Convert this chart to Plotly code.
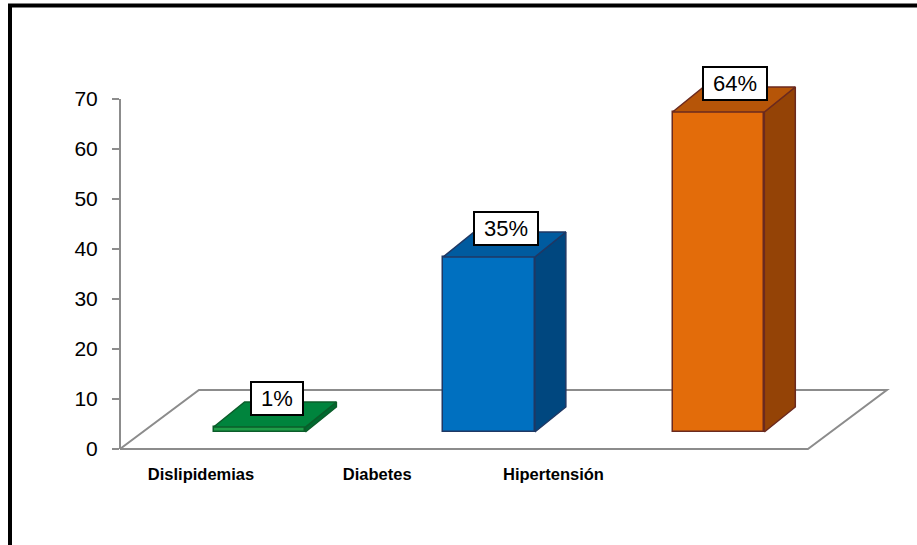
import plotly.graph_objects as go

# ---- data ----
categories = ["Dislipidemias", "Diabetes", "Hipertensión"]
values = [1, 35, 64]
value_labels = ["1%", "35%", "64%"]
y_ticks = [0, 10, 20, 30, 40, 50, 60, 70]

# ---- styling ----
front_colors = ["#1f9e48", "#0070c0", "#e36c0a"]
top_colors = ["#00843d", "#005b9f", "#b65508"]
side_colors = ["#006a30", "#00477f", "#944306"]
edge_colors = ["#0b5d2a", "#1f3864", "#6b2a1f"]
GRAY = "#8c8c8c"

bar_half = 0.2        # half width of bar front face (category units)
depth_dx = 0.135      # 3D depth offset (x, category units)
depth_dy = 5.0        # 3D depth offset (y, value units)
bar_base = 3.4        # where bars stand in the 3D floor
floor_front = (-0.608, 2.39)
floor_dx, floor_dy = 0.344, 11.8
label_pos0, label_step = -0.255, 0.768

x_range = [-0.608, 2.80]
y_range = [-1, 76]
ML, MR, MT, MB = 120, 15, 69, 91
W, H = 917, 545

fig = go.Figure()

# floor (background decoration, below traces)
fpts = [(floor_front[0], 0), (floor_front[1], 0),
        (floor_front[1] + floor_dx, floor_dy), (floor_front[0] + floor_dx, floor_dy)]
fpath = "M " + " L ".join("%f,%f" % p for p in fpts) + " Z"
fig.add_shape(type="path", xref="x", yref="y", path=fpath,
              line=dict(color=GRAY, width=2), fillcolor="rgba(0,0,0,0)", layer="below")

centers = list(range(len(categories)))
for i, (c, v) in enumerate(zip(centers, values)):
    top = bar_base + v
    # side face
    sx = [c + bar_half, c + bar_half + depth_dx, c + bar_half + depth_dx, c + bar_half, c + bar_half]
    sy = [bar_base, bar_base + depth_dy, top + depth_dy, top, bar_base]
    fig.add_trace(go.Scatter(x=sx, y=sy, mode="lines", fill="toself", fillcolor=side_colors[i],
                             line=dict(color=edge_colors[i], width=1.5),
                             hoverinfo="skip", showlegend=False))
    # top face
    tx = [c - bar_half, c + bar_half, c + bar_half + depth_dx, c - bar_half + depth_dx, c - bar_half]
    ty = [top, top, top + depth_dy, top + depth_dy, top]
    fig.add_trace(go.Scatter(x=tx, y=ty, mode="lines", fill="toself", fillcolor=top_colors[i],
                             line=dict(color=edge_colors[i], width=1.5),
                             hoverinfo="skip", showlegend=False))

# front faces
fig.add_trace(go.Bar(x=centers, y=values, base=bar_base, width=2 * bar_half,
                     marker=dict(color=front_colors, line=dict(color=edge_colors, width=1.5)),
                     showlegend=False, hoverinfo="skip"))

# value labels
for c, v, lab in zip(centers, values, value_labels):
    fig.add_annotation(x=c, y=bar_base + v, text="\u00a0" + lab + "\u00a0", showarrow=False,
                       xshift=17, yshift=29,
                       font=dict(family="Liberation Sans, Arial", size=22, color="black"),
                       bgcolor="white", bordercolor="black", borderwidth=2, borderpad=3)

# y axis line (0..70)
fig.add_shape(type="line", xref="paper", yref="y", x0=0, x1=0, y0=y_ticks[0], y1=y_ticks[-1],
              line=dict(color=GRAY, width=2))

# outer frame
pw = W - ML - MR
ph = H - MT - MB
fig.add_shape(type="rect", xref="paper", yref="paper",
              x0=(10 - ML) / pw, x1=1.3, y0=-0.5, y1=1 + (MT - 5.5) / ph,
              line=dict(color="black", width=4), fillcolor="rgba(0,0,0,0)", layer="above")

fig.update_layout(
    width=W, height=H,
    margin=dict(l=ML, r=MR, t=MT, b=MB),
    paper_bgcolor="white", plot_bgcolor="white",
    font=dict(family="Liberation Sans, Arial", color="black"),
    bargap=0,
    xaxis=dict(range=x_range, showgrid=False, zeroline=False, showline=False,
               tickmode="array",
               tickvals=[label_pos0 + k * label_step for k in range(len(categories))],
               ticktext=["<b>%s</b>" % t for t in categories],
               tickfont=dict(size=16.5, family="Liberation Sans, Arial", color="black"),
               ticks="", ticklabelstandoff=8, fixedrange=True),
    yaxis=dict(range=y_range, showgrid=False, zeroline=False, showline=False,
               tickmode="array", tickvals=y_ticks,
               ticks="outside", ticklen=7, tickwidth=2, tickcolor=GRAY,
               tickfont=dict(size=21, family="Liberation Sans, Arial", color="black"),
               ticklabelstandoff=10, fixedrange=True),
)

fig.write_html("out.html")
